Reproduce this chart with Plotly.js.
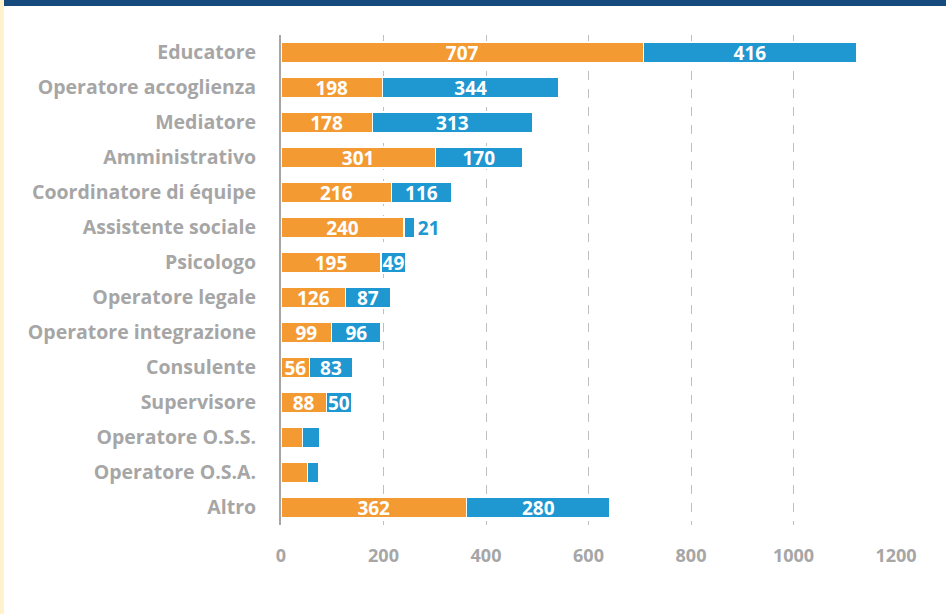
<!DOCTYPE html>
<html>
<head>
<meta charset="utf-8">
<script src="https://cdn.plot.ly/plotly-3.0.1.min.js"></script>
<style>
html,body{margin:0;padding:0;background:#fff;}
#wrap{position:relative;width:946px;height:614px;overflow:hidden;}
#topbar{position:absolute;left:0;top:0;width:946px;height:6px;background:#174a7c;z-index:2;}
#leftbar{position:absolute;left:0;top:0;width:4px;height:614px;background:#fff2cc;z-index:2;}
#chart{position:absolute;left:0;top:0;width:946px;height:614px;}
</style>
</head>
<body>
<div id="wrap">
<div id="chart"></div>
<div id="topbar"></div>
<div id="leftbar"></div>
</div>
<script>
const categories = ["Educatore","Operatore accoglienza","Mediatore","Amministrativo","Coordinatore di équipe","Assistente sociale","Psicologo","Operatore legale","Operatore integrazione","Consulente","Supervisore","Operatore O.S.S.","Operatore O.S.A.","Altro"];
const seriesA = [707,198,178,301,216,240,195,126,99,56,88,42,51,362];
const seriesB = [416,344,313,170,116,21,49,87,96,83,50,34,23,280];
const labelsA = ["707","198","178","301","216","240","195","126","99","56","88","","","362"];
const labelsB = ["416","344","313","170","116","21","49","87","96","83","50","","","280"];
const xTicks = [0,200,400,600,800,1000,1200];

const FONT = "'Open Sans', sans-serif";
const orange = "#f39a33";
const blue = "#1f97d0";

const posB = labelsB.map(t => t === "21" ? "outside" : "inside");
const colB = labelsB.map(t => t === "21" ? blue : "#ffffff");

const traces = [
  {type:"bar", orientation:"h", y:categories, x:seriesA, text:labelsA, textposition:"inside",
   insidetextanchor:"middle", constraintext:"none", textangle:0, cliponaxis:false,
   textfont:{family:FONT, size:19, color:"#ffffff", weight:"bold"},
   marker:{color:orange, line:{color:"#ffffff", width:1.2}}, hoverinfo:"none"},
  {type:"bar", orientation:"h", y:categories, x:seriesB, text:labelsB, textposition:posB,
   insidetextanchor:"middle", constraintext:"none", textangle:0, cliponaxis:false,
   textfont:{family:FONT, size:19, color:colB, weight:"bold"},
   marker:{color:blue, line:{color:"#ffffff", width:1.2}}, hoverinfo:"none"}
];

const layout = {
  width:946, height:614,
  margin:{l:281, r:50, t:35, b:89},
  barmode:"stack", bargap:0.40, showlegend:false,
  paper_bgcolor:"#ffffff", plot_bgcolor:"#ffffff",
  font:{family:FONT, color:"#a6a6a6"},
  xaxis:{range:[0,1200], tickvals:xTicks, ticktext:xTicks.map(String),
    showgrid:true, gridcolor:"#bfbfbf", griddash:"dash", gridwidth:1,
    zeroline:false, showline:false, ticks:"", ticklabelstandoff:18,
    tickfont:{family:FONT, size:18, color:"#a6a6a6", weight:"bold"}, fixedrange:true},
  yaxis:{type:"category", categoryorder:"array", categoryarray:categories, autorange:"reversed",
    showgrid:false, zeroline:false, showline:true, linecolor:"#a6a6a6", linewidth:2,
    ticks:"", ticklabelstandoff:19,
    tickfont:{family:FONT, size:19.5, color:"#a6a6a6", weight:"bold"}, fixedrange:true}
};

Plotly.newPlot("chart", traces, layout, {displayModeBar:false, staticPlot:true});
</script>
</body>
</html>
